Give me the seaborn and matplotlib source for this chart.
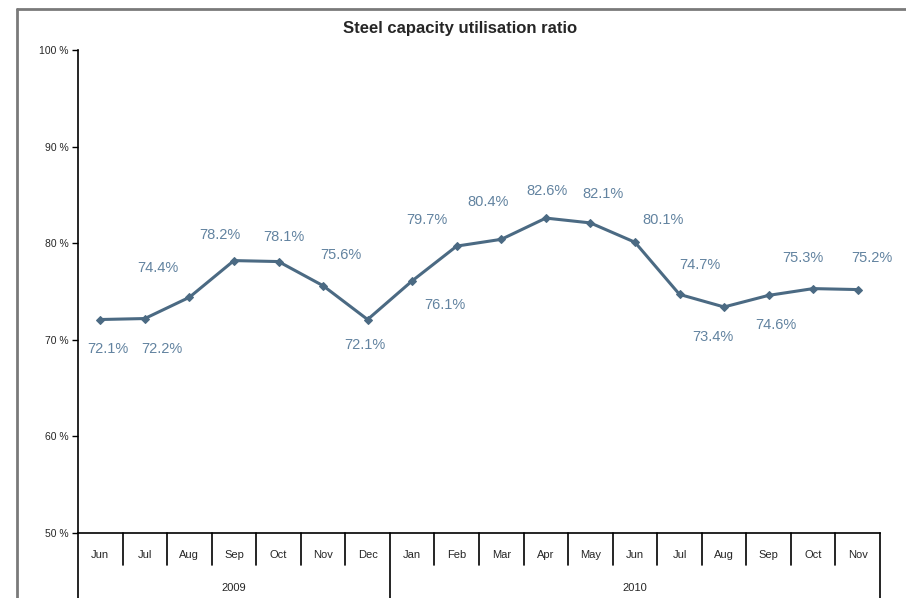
import seaborn as sns
import matplotlib.pyplot as plt
import matplotlib.transforms as mtransforms
import numpy as np
import pandas as pd

# Monthly steel capacity utilisation, Jun 2009 - Nov 2010
months = ["Jun", "Jul", "Aug", "Sep", "Oct", "Nov", "Dec",
          "Jan", "Feb", "Mar", "Apr", "May", "Jun", "Jul", "Aug", "Sep", "Oct", "Nov"]
years = ["2009"] * 7 + ["2010"] * 11
utilisation = [72.1, 72.2, 74.4, 78.2, 78.1, 75.6, 72.1,
               76.1, 79.7, 80.4, 82.6, 82.1, 80.1, 74.7, 73.4, 74.6, 75.3, 75.2]
y_ticks = [50, 60, 70, 80, 90, 100]

# label placement (pixel offsets from each point, as in the original chart)
label_offsets = [(8, 29), (17, 30), (-32, -29), (-14, -26), (5, -25), (18, -31), (-3, 25),
                 (33, 24), (-30, -26), (-13, -37), (1, -27), (13, -29), (28, -22),
                 (20, -29), (-11, 30), (7, 30), (-10, -31), (14, -32)]

df = pd.DataFrame({"pos": np.arange(len(months)), "month": months,
                   "year": years, "value": utilisation})

sns.set_style("white")
plt.rcParams["font.family"] = ["Liberation Sans", "DejaVu Sans"]

W, H = 906, 598
fig = plt.figure(figsize=(W / 100, H / 100), dpi=100)
ax = fig.add_axes([78 / W, 1 - 533 / H, 802 / W, 483 / H])

line_color = "#4b6a83"
label_color = "#6283a0"

sns.lineplot(data=df, x="pos", y="value", ax=ax, color=line_color, linewidth=2.2,
             marker="D", markersize=4.5, markeredgecolor=line_color)

for (_, row), (dx, dy) in zip(df.iterrows(), label_offsets):
    ax.annotate(f"{row['value']:.1f}%", (row["pos"], row["value"]),
                xytext=(dx, -dy), textcoords="offset pixels",
                ha="center", va="center", fontsize=10.5, color=label_color)

n = len(months)
ax.set_xlim(-0.5, n - 0.5)
ax.set_ylim(50, 100)
ax.set_yticks(y_ticks)
ax.set_yticklabels([f"{v} %" for v in y_ticks], fontsize=7.5)
ax.set_xticks([])
ax.set_xlabel("")
ax.set_ylabel("")
ax.tick_params(axis="y", direction="out", length=4, width=1, color="black", pad=3, left=True)
ax.grid(False)

for side in ["top", "right"]:
    ax.spines[side].set_visible(False)
for side in ["left", "bottom"]:
    ax.spines[side].set_color("black")
    ax.spines[side].set_linewidth(1.2)

# two-level category axis: month cells and year groups
trans = mtransforms.blended_transform_factory(ax.transData, ax.transAxes)
month_drop = 32 / 483
year_drop = 70 / 483
year_starts = [i for i in range(n) if i == 0 or years[i] != years[i - 1]]
for b in range(n + 1):
    drop = year_drop if (b in year_starts or b == n) else month_drop
    ax.plot([b - 0.5, b - 0.5], [0, -drop], transform=trans, color="black",
            linewidth=1.2, clip_on=False)
for i, m in enumerate(months):
    ax.text(i, -22 / 483, m, transform=trans, ha="center", va="center", fontsize=8)
for k, start in enumerate(year_starts):
    end = year_starts[k + 1] if k + 1 < len(year_starts) else n
    ax.text((start + end - 1) / 2, -55 / 483, years[start], transform=trans,
            ha="center", va="center", fontsize=8)

fig.text(460 / W, 1 - 28 / H, "Steel capacity utilisation ratio", ha="center", va="center",
         fontsize=12, fontweight="bold")

# chart area frame
fig.add_artist(plt.Line2D([17 / W, 17 / W], [0, 1 - 9 / H], color="#7a7a7a", linewidth=2,
                          transform=fig.transFigure))
fig.add_artist(plt.Line2D([17 / W, 1], [1 - 9 / H, 1 - 9 / H], color="#7a7a7a", linewidth=2,
                          transform=fig.transFigure))

plt.savefig("out.png", dpi=100)
